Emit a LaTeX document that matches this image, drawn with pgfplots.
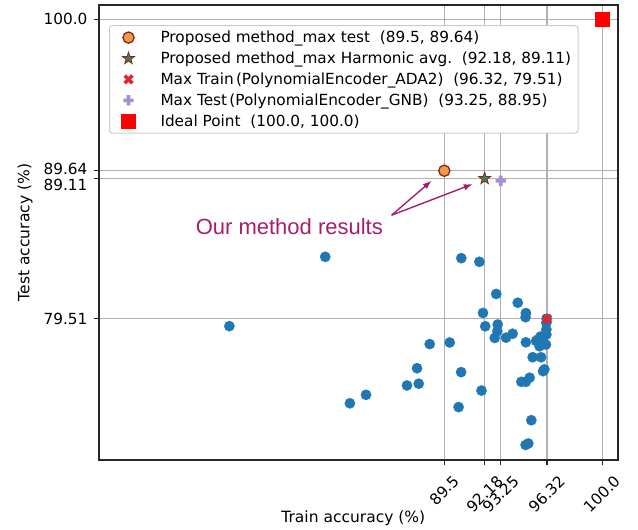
\documentclass[border=0pt]{standalone}
\usepackage{pgfplots}
\pgfplotsset{compat=1.18}
\usepackage{graphicx}
\usepackage{fontspec}
\setmainfont{DejaVu Sans}
\newfontfamily\annfont{Liberation Sans}
\usetikzlibrary{arrows.meta}

\definecolor{ptblue}{HTML}{1F77B4}
\definecolor{porange}{HTML}{F29B45}
\definecolor{pedge}{HTML}{8B2323}
\definecolor{pgreen}{HTML}{2E8B57}
\definecolor{pred}{HTML}{E3242B}
\definecolor{ppurple}{HTML}{A98FD2}
\definecolor{annot}{HTML}{A51E6E}
\definecolor{gridgray}{HTML}{B0B0B0}

% filled marks in the matplotlib style
\pgfdeclareplotmark{fstar}{%
  \pgfpathmoveto{\pgfpointpolar{90}{\pgfplotmarksize}}%
  \pgfpathlineto{\pgfpointpolar{126}{0.4\pgfplotmarksize}}%
  \pgfpathlineto{\pgfpointpolar{162}{\pgfplotmarksize}}%
  \pgfpathlineto{\pgfpointpolar{198}{0.4\pgfplotmarksize}}%
  \pgfpathlineto{\pgfpointpolar{234}{\pgfplotmarksize}}%
  \pgfpathlineto{\pgfpointpolar{270}{0.4\pgfplotmarksize}}%
  \pgfpathlineto{\pgfpointpolar{306}{\pgfplotmarksize}}%
  \pgfpathlineto{\pgfpointpolar{342}{0.4\pgfplotmarksize}}%
  \pgfpathlineto{\pgfpointpolar{18}{\pgfplotmarksize}}%
  \pgfpathlineto{\pgfpointpolar{54}{0.4\pgfplotmarksize}}%
  \pgfpathclose
  \pgfusepathqfillstroke}
\newcommand\plusshape{%
  \pgfpathmoveto{\pgfpoint{0.34\pgfplotmarksize}{\pgfplotmarksize}}%
  \pgfpathlineto{\pgfpoint{-0.34\pgfplotmarksize}{\pgfplotmarksize}}%
  \pgfpathlineto{\pgfpoint{-0.34\pgfplotmarksize}{0.34\pgfplotmarksize}}%
  \pgfpathlineto{\pgfpoint{-\pgfplotmarksize}{0.34\pgfplotmarksize}}%
  \pgfpathlineto{\pgfpoint{-\pgfplotmarksize}{-0.34\pgfplotmarksize}}%
  \pgfpathlineto{\pgfpoint{-0.34\pgfplotmarksize}{-0.34\pgfplotmarksize}}%
  \pgfpathlineto{\pgfpoint{-0.34\pgfplotmarksize}{-\pgfplotmarksize}}%
  \pgfpathlineto{\pgfpoint{0.34\pgfplotmarksize}{-\pgfplotmarksize}}%
  \pgfpathlineto{\pgfpoint{0.34\pgfplotmarksize}{-0.34\pgfplotmarksize}}%
  \pgfpathlineto{\pgfpoint{\pgfplotmarksize}{-0.34\pgfplotmarksize}}%
  \pgfpathlineto{\pgfpoint{\pgfplotmarksize}{0.34\pgfplotmarksize}}%
  \pgfpathlineto{\pgfpoint{0.34\pgfplotmarksize}{0.34\pgfplotmarksize}}%
  \pgfpathclose}
\pgfdeclareplotmark{fplus}{\plusshape\pgfusepathqfill}
\pgfdeclareplotmark{fcross}{\pgfscope\pgftransformrotate{45}\plusshape\pgfusepathqfill\endpgfscope}

\pgfplotstableread{
x y
75.22 79.01
81.59 83.75
83.23 73.73
84.30 74.31
87.02 74.95
87.80 75.07
87.69 76.13
88.53 77.78
89.86 77.89
90.62 75.86
90.45 73.47
90.63 83.66
91.83 83.41
91.97 74.60
92.07 79.91
92.22 79.00
92.95 81.21
93.05 79.12
93.02 78.66
92.85 78.20
93.60 78.22
94.04 78.49
94.38 80.61
94.92 79.90
94.90 79.62
94.92 77.90
95.37 76.88
95.93 76.88
95.72 78.09
96.05 77.99
96.25 77.75
95.83 77.63
96.28 78.43
96.28 79.24
96.28 78.78
96.30 79.51
96.06 75.93
96.15 76.05
94.62 75.20
95.17 75.48
94.92 75.20
95.28 72.57
94.90 70.88
95.08 70.98
95.90 78.30
95.60 78.00
}\others

\begin{document}
\begin{tikzpicture}
\useasboundingbox (-99bp,-70bp) rectangle (539bp,460bp);
\begin{axis}[
    at={(0,0)}, anchor=south west,
    scale only axis,
    width=519bp, height=455bp,
    xmin=66.56, xmax=101.04,
    ymin=69.85, ymax=100.98,
    xtick={89.5,92.18,93.25,96.32,100},
    xticklabels={\rotatebox{45}{89.5},\rotatebox{45}{92.18},\rotatebox{45}{93.25},\rotatebox{45}{96.32},\rotatebox{45}{100.0}},
    ytick={79.51,89.11,89.64,100},
    yticklabels={79.51,\raisebox{-6bp}[\height][\depth]{89.11},\raisebox{1.5bp}[\height][\depth]{89.64},100.0},
    tick align=outside,
    tick pos=left,
    major tick length=5.4bp,
    major tick style={line width=1.1bp, black!85},
    axis line style={line width=1.1bp, black!85},
    grid=major,
    major grid style={line width=1.2bp, gridgray},
    tick label style={font=\fontsize{15.3bp}{18bp}\selectfont},
    xticklabel style={anchor=north, inner sep=0pt, yshift=-9bp},
    yticklabel style={anchor=east, inner sep=0pt, xshift=-6bp},
    label style={font=\fontsize{15.5bp}{18bp}\selectfont},
    xlabel={Train accuracy (\%)},
    ylabel={Test accuracy (\%)},
    xlabel style={at={(axis description cs:0.49,-0.1275)}, anchor=center},
    ylabel style={at={(axis description cs:-0.1426,0.5)}, anchor=center},
    clip mode=individual,
    legend cell align=left,
    legend image code/.code={%
        \draw[mark repeat=1,#1] plot coordinates {(13.5bp,0bp)};
        \path (0bp,0bp) (31bp,0bp);},
    legend style={at={(0.0193,0.956)}, anchor=north west,
        draw=black!20, line width=1bp, rounded corners=3bp,
        fill=white, inner xsep=5bp, inner ysep=3.5bp,
        font=\fontsize{15.3bp}{18bp}\selectfont,
        row sep=3.8bp,
        /tikz/every odd column/.append style={column sep=12bp}},
]
\addplot[only marks, mark=*, mark size=5.2bp, draw=none, fill=ptblue,
    mark options={draw=ptblue, fill=ptblue, line width=0.2bp}, forget plot] table {\others};

\addplot[only marks, mark=*, mark size=5.6bp,
    mark options={draw=pedge, fill=porange, line width=1.3bp}] coordinates {(89.5,89.64)};
\addlegendentry{Proposed method\_max test\ \ (89.5, 89.64)}

\addplot[only marks, mark=fstar, mark size=6.3bp,
    mark options={draw=pedge, fill=pgreen, line width=0.8bp}] coordinates {(92.18,89.11)};
\addlegendentry{Proposed method\_max Harmonic avg.\ \ (92.18, 89.11)}

\addplot[only marks, mark=fcross, mark size=5.4bp,
    mark options={draw=pred, fill=pred}] coordinates {(96.32,79.51)};
\addlegendentry{Max Train\hspace{0.15em}(PolynomialEncoder\_ADA2)\ \ (96.32, 79.51)}

\addplot[only marks, mark=fplus, mark size=5.2bp,
    mark options={draw=ppurple, fill=ppurple}] coordinates {(93.25,88.95)};
\addlegendentry{Max Test\hspace{0.15em}(PolynomialEncoder\_GNB)\ \ (93.25, 88.95)}

\addplot[only marks, mark=square*, mark size=7bp,
    mark options={draw=red, fill=red}] coordinates {(100,100)};
\addlegendentry{Ideal Point\ \ (100.0, 100.0)}

\node[anchor=east, inner sep=0pt, text=annot,
    font=\annfont\fontsize{22bp}{26bp}\selectfont] at (axis cs:85.43,85.85) {Our method results};
\draw[annot, line width=1.4bp, -{Latex[length=9bp,width=6.5bp]}]
    (axis cs:86.0,86.6) -- (axis cs:88.66,88.96);
\draw[annot, line width=1.4bp, -{Latex[length=9bp,width=6.5bp]}]
    (axis cs:86.0,86.6) -- (axis cs:91.39,88.73);
\end{axis}
\end{tikzpicture}
\end{document}
